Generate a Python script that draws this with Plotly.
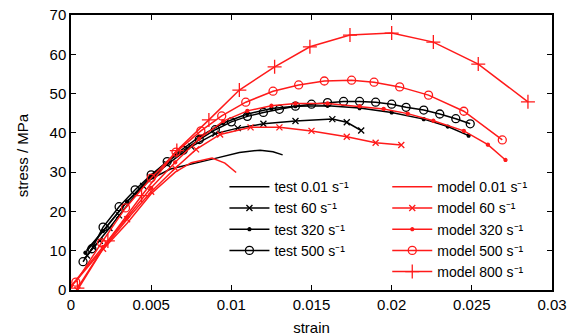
import plotly.graph_objects as go

# ---- data (strain, stress MPa) ----
test001_x = [0.00098, 0.0020, 0.0035, 0.0050, 0.0062, 0.0075, 0.0090, 0.0105, 0.0118, 0.0126, 0.0132]
test001_y = [10.2, 15.0, 22.5, 28.3, 30.8, 32.0, 33.5, 35.0, 35.6, 35.2, 34.4]

test60_x = [0.0010, 0.0014, 0.0018, 0.0024, 0.0030, 0.0045, 0.0060, 0.0075, 0.0090, 0.0104, 0.0120, 0.0140, 0.0163, 0.0172, 0.0181]
test60_y = [8.8, 10.8, 12.5, 15.8, 19.0, 26.5, 32.0, 36.5, 39.8, 41.2, 42.3, 43.0, 43.5, 42.7, 40.6]

test320_x = [0.0009, 0.0020, 0.0035, 0.0050, 0.0065, 0.0080, 0.0095, 0.0110, 0.0125, 0.0140, 0.0160, 0.0180, 0.0200, 0.0220, 0.0235, 0.0248]
test320_y = [9.5, 15.0, 22.5, 29.0, 34.5, 39.0, 42.5, 44.8, 46.2, 46.8, 46.9, 46.3, 45.2, 43.5, 41.6, 39.3]

test500_x = [0.00075, 0.0013, 0.0020, 0.0030, 0.0040, 0.0050, 0.0060, 0.0070, 0.0080, 0.0090, 0.0100, 0.0110,
             0.0120, 0.0130, 0.0140, 0.0150, 0.0160, 0.0170, 0.0180, 0.0190, 0.0200, 0.0209, 0.0220, 0.0230, 0.0240, 0.0249]
test500_y = [7.2, 10.5, 16.0, 21.2, 25.5, 29.3, 32.7, 35.6, 38.3, 40.8, 42.8, 44.2,
             45.2, 46.0, 46.8, 47.3, 47.7, 48.0, 48.0, 47.8, 47.3, 46.5, 45.8, 44.8, 43.6, 42.3]

model001_x = [0.0, 0.0018, 0.0035, 0.0050, 0.0065, 0.0075, 0.0088, 0.0096, 0.0103]
model001_y = [0.8, 9.5, 17.0, 24.5, 30.0, 32.4, 33.6, 32.3, 29.9]

model60_x = [0.0004, 0.0020, 0.0035, 0.0050, 0.0065, 0.0078, 0.0093, 0.0112, 0.0130, 0.0150, 0.0172, 0.0190, 0.0206]
model60_y = [0.0, 10.5, 18.0, 25.0, 31.0, 35.8, 39.6, 41.4, 41.4, 40.5, 39.0, 37.5, 36.9]

model320_x = [0.0, 0.0020, 0.0035, 0.0050, 0.0065, 0.0080, 0.0095, 0.0110, 0.0125, 0.0140, 0.0160, 0.0180, 0.0195, 0.0210, 0.0226, 0.0245, 0.0260, 0.0271]
model320_y = [1.0, 11.0, 18.5, 26.0, 32.5, 38.5, 43.0, 45.6, 46.9, 47.5, 47.5, 46.8, 46.1, 44.9, 43.1, 40.5, 37.0, 33.1]

model500_x = [0.0003, 0.0019, 0.0034, 0.0050, 0.00655, 0.0081, 0.0094, 0.0109, 0.0126, 0.0142, 0.0158, 0.0175, 0.0189, 0.0205, 0.0223, 0.0245, 0.0269]
model500_y = [2.0, 12.0, 20.9, 28.5, 35.1, 40.5, 44.3, 47.8, 50.6, 52.2, 53.2, 53.4, 52.9, 51.7, 49.6, 45.5, 38.2]

model800_x = [0.0004, 0.0023, 0.0044, 0.0066, 0.0086, 0.0105, 0.0127, 0.0149, 0.0174, 0.0200, 0.0226, 0.0254, 0.0285]
model800_y = [0.5, 12.5, 24.0, 35.5, 43.3, 50.9, 56.8, 61.9, 64.9, 65.4, 63.1, 57.5, 47.9]

x_ticks = [0, 0.005, 0.01, 0.015, 0.02, 0.025, 0.03]
x_tick_labels = ["0", "0.005", "0.01", "0.015", "0.02", "0.025", "0.03"]
y_ticks = [0, 10, 20, 30, 40, 50, 60, 70]

FONT = "Liberation Sans, Arial, sans-serif"
FS = 15
LFS = 14
BLACK = "#000000"
RED = "#ff1a1a"

fig = go.Figure()

def add(x, y, name, color, symbol=None, size=6, legend="legend", lw=1.5):
    mode = "lines" if symbol is None else "lines+markers"
    kw = {}
    if symbol is not None:
        kw["marker"] = dict(symbol=symbol, size=size, color=color,
                            line=dict(color=color, width=1.3))
    fig.add_trace(go.Scatter(x=x, y=y, name=name, mode=mode,
                             line=dict(color=color, width=lw),
                             legend=legend, **kw))

S = " s\u207b\u00b9"
add(test001_x, test001_y, "test 0.01" + S, BLACK)
add(test60_x, test60_y, "test 60" + S, BLACK, "x-thin-open", 6)
add(test320_x, test320_y, "test 320" + S, BLACK, "circle", 3)
add(test500_x, test500_y, "test 500" + S, BLACK, "circle-open", 8)
add(model001_x, model001_y, "model 0.01" + S, RED, legend="legend2")
add(model60_x, model60_y, "model 60" + S, RED, "x-thin-open", 6, legend="legend2")
add(model320_x, model320_y, "model 320" + S, RED, "circle", 3, legend="legend2")
add(model500_x, model500_y, "model 500" + S, RED, "circle-open", 8, legend="legend2")
add(model800_x, model800_y, "model 800" + S, RED, "cross-thin-open", 10, legend="legend2")

axis_common = dict(showline=True, linecolor="black", linewidth=1.5, mirror="ticks",
                   ticks="inside", ticklen=5, tickwidth=1.2, tickcolor="black",
                   showgrid=False, zeroline=False, automargin=False,
                   tickfont=dict(family=FONT, size=FS, color="black"))

fig.update_layout(
    width=576, height=336,
    margin=dict(l=71, r=24, t=15, b=46, autoexpand=False),
    paper_bgcolor="white", plot_bgcolor="white",
    font=dict(family=FONT, size=FS, color="black"),
    xaxis=dict(range=[0, 0.03], tickvals=x_ticks, ticktext=x_tick_labels,
               title=dict(text="strain", font=dict(family=FONT, size=FS), standoff=11),
               **axis_common),
    yaxis=dict(range=[0, 70], tickvals=y_ticks, **axis_common),
    legend=dict(x=0.319, y=0.432, xanchor="left", yanchor="top",
                bgcolor="rgba(0,0,0,0)", font=dict(family=FONT, size=LFS),
                tracegroupgap=0, itemwidth=40),
    legend2=dict(x=0.6575, y=0.432, xanchor="left", yanchor="top",
                 bgcolor="rgba(0,0,0,0)", font=dict(family=FONT, size=LFS),
                 tracegroupgap=0, itemwidth=40),
    annotations=[dict(text="stress / MPa", xref="paper", yref="paper",
                      x=-0.102, y=0.49, xanchor="center", yanchor="middle",
                      textangle=-90, showarrow=False,
                      font=dict(family=FONT, size=FS, color="black"))],
)

# remove the default 8px page margin so the 576x336 figure fills the window
fig.write_html("out.html", config={"displayModeBar": False},
               post_script="document.body.style.margin='0';document.body.style.overflow='hidden';")
